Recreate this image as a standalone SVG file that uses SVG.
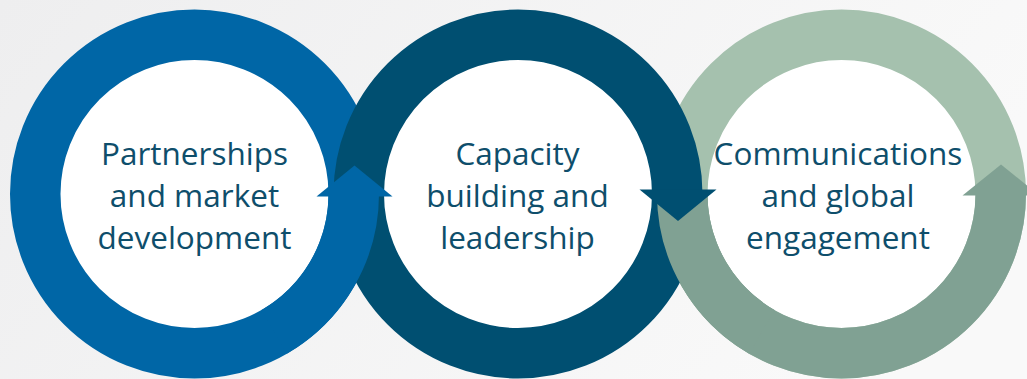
<svg xmlns="http://www.w3.org/2000/svg" width="1027" height="379" viewBox="0 0 1027 379">
  <defs>
    <linearGradient id="bg" x1="0" y1="0" x2="1" y2="0.3">
      <stop offset="0" stop-color="#eeeeef"/>
      <stop offset="1" stop-color="#f9f9f9"/>
    </linearGradient>
    <style>
      .ring { fill: none; stroke-width: 50.5; }
      .blue { stroke: #0066a6; }
      .teal { stroke: #004f71; }
      .lgreen { stroke: #a5c1ae; }
      .dgreen { stroke: #80a193; }
      .disc { fill: #ffffff; }
      .label { font-family: "Open Sans", "Noto Sans", "Liberation Sans", sans-serif; font-size: 31.5px; fill: #0e4e6b; text-anchor: middle; }
    </style>
  </defs>
  <rect x="0" y="0" width="1027" height="379" fill="url(#bg)"/>

  <g id="node-1">
    <circle class="disc" cx="194.5" cy="194" r="134.5"/>
    <text class="label" x="194.5" y="165">Partnerships</text>
    <text class="label" x="194.5" y="207">and market</text>
    <text class="label" x="194.5" y="249">development</text>
  </g>
  <g id="node-2">
    <circle class="disc" cx="518" cy="194" r="134.5"/>
    <text class="label" x="517.5" y="165">Capacity</text>
    <text class="label" x="517.5" y="207">building and</text>
    <text class="label" x="517.5" y="249">leadership</text>
  </g>
  <g id="node-3">
    <circle class="disc" cx="841.5" cy="194" r="134.5"/>
    <text class="label" x="838" y="165">Communications</text>
    <text class="label" x="838" y="207">and global</text>
    <text class="label" x="838" y="249">engagement</text>
  </g>

  <g id="rings">
    <circle class="ring blue" cx="194.5" cy="194" r="159.25"/>
    <circle class="ring lgreen" cx="841.5" cy="194" r="159.25"/>
    <path class="ring dgreen" d="M 682.25 194 A 159.25 159.25 0 0 0 1000.75 194"/>
    <polygon fill="#80a193" points="962.5,195.5 1039.5,195.5 1001,164.5"/>
    <circle class="ring teal" cx="518" cy="194" r="159.25"/>
  </g>

  <g id="connectors">
    <path class="ring blue" d="M 353.75 194 A 159.25 159.25 0 0 1 274.1 331.9"/>
    <polygon fill="#0066a6" points="316.5,196.5 392.5,196.5 354.5,165.5"/>
    <path class="ring dgreen" d="M 682.25 194 A 159.25 159.25 0 0 0 761.9 331.9"/>
    <polygon fill="#004f71" points="639.5,189.5 716.5,189.5 678,221"/>
  </g>
</svg>
